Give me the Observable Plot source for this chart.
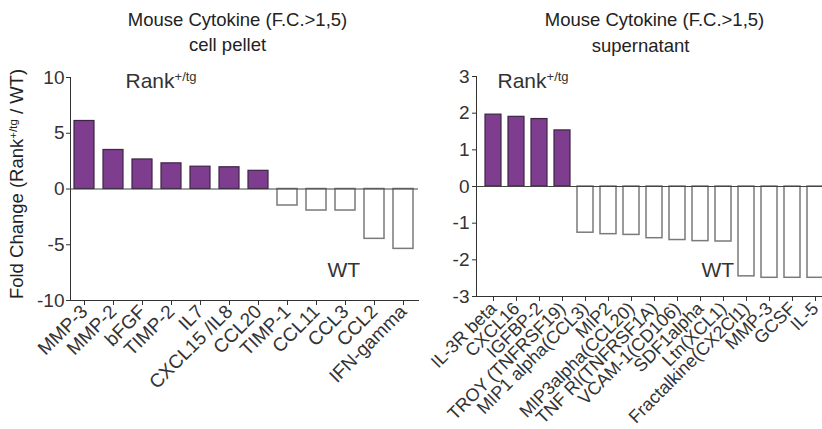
<!DOCTYPE html>
<html>
<head>
<meta charset="utf-8">
<script src="https://cdn.jsdelivr.net/npm/d3@7"></script>
<script src="https://cdn.jsdelivr.net/npm/@observablehq/plot@0.6"></script>
<style>
  html, body { margin: 0; padding: 0; background: #fff; }
  #wrap { position: relative; width: 822px; height: 429px; overflow: hidden; background: #fff; }
  #left { position: absolute; left: 0; top: 0; }
  #right { position: absolute; left: 410px; top: 0; }
</style>
</head>
<body>
<div id="wrap"><div id="left"></div><div id="right"></div></div>
<script>
// ---- data ----
const pelletLabels = ["MMP-3", "MMP-2", "bFGF", "TIMP-2", "IL7", "CXCL15 /IL8", "CCL20", "TIMP-1", "CCL11", "CCL3", "CCL2", "IFN-gamma"];
const pelletValues = [6.1, 3.5, 2.65, 2.3, 2.0, 1.95, 1.63, -1.48, -1.93, -1.93, -4.47, -5.37];
const pelletTicks = [-10, -5, 0, 5, 10];

const superLabels = ["IL-3R beta", "CXCL16", "IGFBP-2", "TROY (TNFRSF19)", "MIP1 alpha(CCL3)", "MIP2", "MIP3alpha(CCL20)", "TNF RI(TNFRSF1A)", "VCAM-1(CD106)", "SDF1alpha", "Ltn(XCL1)", "Fractalkine(CX2Cl1)", "MMP-3", "GCSF", "IL-5"];
const superValues = [1.96, 1.90, 1.84, 1.53, -1.26, -1.30, -1.32, -1.41, -1.46, -1.49, -1.50, -2.45, -2.49, -2.49, -2.49];
const superTicks = [-3, -2, -1, 0, 1, 2, 3];

const titleText = "Mouse Cytokine (F.C.>1,5)";
const subtitles = ["cell pellet", "supernatant"];
const groupUp = "Rank+/tg";
const groupDown = "WT";
const yLabel = "Fold Change (Rank+/tg / WT)";

// ---- styling ----
const PURPLE = "#7e3d8e";
const PURPLE_STROKE = "#3d2545";
const WHITE_STROKE = "#7a7a7a";
const FONT = "'Liberation Sans', Arial, Helvetica, sans-serif";

const pellet = pelletLabels.map((k, i) => ({k, v: pelletValues[i]}));
const superData = superLabels.map((k, i) => ({k, v: superValues[i]}));

function supify(svg) {
  const ns = "http://www.w3.org/2000/svg";
  svg.querySelectorAll("text").forEach(t => {
    const s = t.textContent;
    if (s.includes("+/tg") && t.children.length === 0) {
      const [a, b] = s.split("+/tg");
      t.textContent = "";
      t.appendChild(document.createTextNode(a));
      const sup = document.createElementNS(ns, "tspan");
      sup.setAttribute("font-size", "62%");
      sup.setAttribute("baseline-shift", "super");
      sup.textContent = "+/tg";
      t.appendChild(sup);
      if (b) {
        const rest = document.createElementNS(ns, "tspan");
        rest.textContent = b;
        t.appendChild(rest);
      }
    }
  });
}

const fmt = d => String(d);

const left = Plot.plot({
  width: 420, height: 429,
  marginLeft: 70, marginRight: 2, marginTop: 77, marginBottom: 129,
  style: {fontFamily: FONT, fontSize: "19px", color: "#333", background: "transparent", overflow: "visible", maxWidth: "none"},
  x: {domain: pelletLabels, paddingInner: 0.31, paddingOuter: 0.155, tickRotate: -45, tickSize: 5, tickPadding: 3, label: null, line: true},
  y: {domain: [-10, 10], ticks: pelletTicks, tickFormat: fmt, tickSize: 4, tickPadding: 2, label: null, line: true},
  marks: [
    Plot.barY(pellet.filter(d => d.v > 0), {x: "k", y: "v", fill: PURPLE, stroke: PURPLE_STROKE, strokeWidth: 1.2}),
    Plot.barY(pellet.filter(d => d.v < 0), {x: "k", y: "v", fill: "white", stroke: WHITE_STROKE, strokeWidth: 1.5}),
    Plot.ruleY([0], {stroke: "#444", strokeWidth: 1.2}),
    Plot.text([titleText], {frameAnchor: "top", dx: -7, dy: -57, lineAnchor: "middle", fontSize: 18.5, fill: "#222"}),
    Plot.text([subtitles[0]], {frameAnchor: "top", dx: -17, dy: -32, lineAnchor: "middle", fontSize: 18.5, fill: "#222"}),
    Plot.text([groupUp], {frameAnchor: "top-left", textAnchor: "start", lineAnchor: "middle", dx: 55, dy: 4, fontSize: 21, fill: "#333"}),
    Plot.text([groupDown], {frameAnchor: "top-left", textAnchor: "start", lineAnchor: "middle", dx: 257, dy: 193, fontSize: 21, fill: "#333"}),
    Plot.text([yLabel], {frameAnchor: "left", textAnchor: "middle", lineAnchor: "middle", rotate: -90, dx: -53, dy: -5, fontSize: 18.5, fill: "#222"})
  ]
});
supify(left);
document.getElementById("left").appendChild(left);

const right = Plot.plot({
  width: 422, height: 429,
  marginLeft: 66, marginRight: 0, marginTop: 76, marginBottom: 133,
  style: {fontFamily: FONT, fontSize: "19px", color: "#333", background: "transparent", overflow: "visible", maxWidth: "none"},
  x: {domain: superLabels, paddingInner: 0.29, paddingOuter: 0.145, tickRotate: -45, tickSize: 5, tickPadding: 4, label: null, line: true},
  y: {domain: [-3, 3], ticks: superTicks, tickFormat: fmt, tickSize: 4, tickPadding: 3, label: null, line: true},
  marks: [
    Plot.barY(superData.filter(d => d.v > 0), {x: "k", y: "v", fill: PURPLE, stroke: PURPLE_STROKE, strokeWidth: 1.2}),
    Plot.barY(superData.filter(d => d.v < 0), {x: "k", y: "v", fill: "white", stroke: WHITE_STROKE, strokeWidth: 1.5}),
    Plot.ruleY([0], {stroke: "#444", strokeWidth: 1.2}),
    Plot.text([titleText], {frameAnchor: "top", dx: 0, dy: -56, lineAnchor: "middle", fontSize: 18.5, fill: "#222"}),
    Plot.text([subtitles[1]], {frameAnchor: "top", dx: -14, dy: -30, lineAnchor: "middle", fontSize: 18.5, fill: "#222"}),
    Plot.text([groupUp], {frameAnchor: "top-left", textAnchor: "start", lineAnchor: "middle", dx: 21, dy: 5, fontSize: 21, fill: "#333"}),
    Plot.text([groupDown], {frameAnchor: "top-left", textAnchor: "start", lineAnchor: "middle", dx: 225, dy: 194, fontSize: 21, fill: "#333"})
  ]
});
supify(right);
// slightly smaller x tick labels in the supernatant panel so the longest fit
right.querySelectorAll('g[aria-label^="x-axis"]').forEach(g => {
  g.setAttribute("font-size", "18px");
  g.querySelectorAll("text").forEach(t => t.style.fontSize = "18px");
});
document.getElementById("right").appendChild(right);
</script>
</body>
</html>
